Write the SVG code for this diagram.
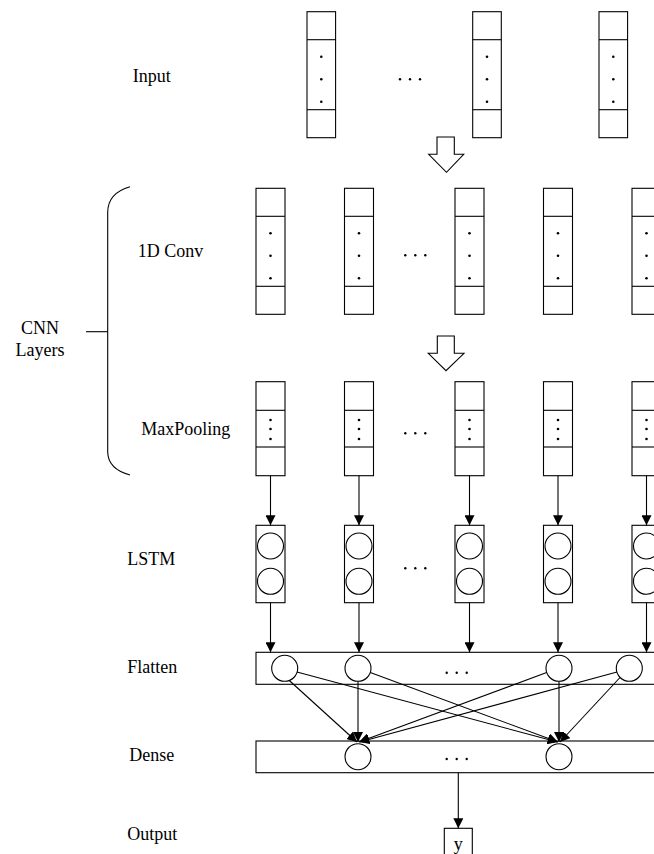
<svg xmlns="http://www.w3.org/2000/svg" width="654" height="854" viewBox="0 0 654 854">
  <style>
    .ln { fill: none; stroke: #000; stroke-width: 1.1; }
    .box { fill: #fff; stroke: #000; stroke-width: 1.1; }
    .dot { fill: #000; }
    .lbl { font-family: "Liberation Serif", "Times New Roman", serif; font-size: 18px; fill: #000; }
  </style>
  <defs>
    <marker id="tip" markerWidth="10" markerHeight="10" refX="10" refY="5" orient="auto" markerUnits="userSpaceOnUse" viewBox="0 0 10 10">
      <path d="M0,0 L10,5 L0,10 z" fill="#000"/>
    </marker>
    <!-- stacked feature column with vertical dots (spread) -->
    <g id="colTall">
      <rect class="box" x="0" y="0" width="29" height="126"/>
      <line class="ln" x1="0" y1="28" x2="29" y2="28"/>
      <line class="ln" x1="0" y1="98" x2="29" y2="98"/>
      <circle class="dot" cx="14.5" cy="45" r="1.3"/>
      <circle class="dot" cx="14.5" cy="67.5" r="1.3"/>
      <circle class="dot" cx="14.5" cy="90" r="1.3"/>
    </g>
    <!-- pooled column with compact dots -->
    <g id="colPool">
      <rect class="box" x="0" y="0" width="29" height="94"/>
      <line class="ln" x1="0" y1="28.6" x2="29" y2="28.6"/>
      <line class="ln" x1="0" y1="65.3" x2="29" y2="65.3"/>
      <circle class="dot" cx="14.5" cy="38.3" r="1.3"/>
      <circle class="dot" cx="14.5" cy="47.3" r="1.3"/>
      <circle class="dot" cx="14.5" cy="57.3" r="1.3"/>
    </g>
    <!-- LSTM cell with two units -->
    <g id="cell">
      <rect class="box" x="0" y="0" width="29" height="77.4"/>
      <circle class="ln" cx="14.5" cy="20.7" r="13"/>
      <circle class="ln" cx="14.5" cy="56" r="13"/>
    </g>
    <g id="hdots">
      <circle class="dot" cx="0" cy="0" r="1.2"/>
      <circle class="dot" cx="10" cy="0" r="1.2"/>
      <circle class="dot" cx="20" cy="0" r="1.2"/>
    </g>
  </defs>

  <!-- row labels -->
  <g id="labels">
    <text class="lbl" x="132.7" y="81.7">Input</text>
    <text class="lbl" x="137.7" y="256.7">1D Conv</text>
    <text class="lbl" x="141.3" y="435">MaxPooling</text>
    <text class="lbl" x="127.3" y="565">LSTM</text>
    <text class="lbl" x="127.3" y="673.3">Flatten</text>
    <text class="lbl" x="129.3" y="760.7">Dense</text>
    <text class="lbl" x="127.3" y="840">Output</text>
    <text class="lbl" x="40" y="334" text-anchor="middle">CNN</text>
    <text class="lbl" x="40" y="356" text-anchor="middle">Layers</text>
  </g>

  <!-- brace grouping the CNN layers -->
  <g id="brace">
    <path class="ln" d="M130,186.7 Q108,193 107.7,212 L107.7,452 Q108,469 130,475"/>
    <line class="ln" x1="86" y1="331.7" x2="107.7" y2="331.7"/>
  </g>

  <!-- input layer -->
  <g id="input">
    <g transform="translate(307,11.7) scale(0.986,1)"><use href="#colTall"/></g>
    <g transform="translate(472.7,11.7) scale(0.986,1)"><use href="#colTall"/></g>
    <g transform="translate(599,11.7) scale(0.986,1)"><use href="#colTall"/></g>
    <use href="#hdots" x="400" y="79.3"/>
  </g>

  <!-- hollow transition arrows -->
  <g id="arrow-input-conv">
    <path class="box" d="M437,137 L454.3,137 L454.3,154.3 L463.7,154.3 L446.5,172.3 L428.7,154.3 L437,154.3 Z"/>
  </g>
  <g id="arrow-conv-pool">
    <path class="box" d="M437.3,336 L454.3,336 L454.3,353.3 L464,353.3 L446,370.7 L428.3,353.3 L437.3,353.3 Z"/>
  </g>

  <!-- 1D convolution layer -->
  <g id="conv">
    <use href="#colTall" x="256" y="188.3"/>
    <use href="#colTall" x="344.5" y="188.3"/>
    <use href="#colTall" x="455" y="188.3"/>
    <use href="#colTall" x="543.5" y="188.3"/>
    <use href="#colTall" x="632" y="188.3"/>
    <use href="#hdots" x="405.3" y="255.3"/>
  </g>

  <!-- max pooling layer -->
  <g id="pool">
    <use href="#colPool" x="256" y="381.7"/>
    <use href="#colPool" x="344.5" y="381.7"/>
    <use href="#colPool" x="455" y="381.7"/>
    <use href="#colPool" x="543.5" y="381.7"/>
    <use href="#colPool" x="632" y="381.7"/>
    <use href="#hdots" x="405.3" y="433.3"/>
  </g>

  <!-- LSTM layer -->
  <g id="lstm">
    <use href="#cell" x="256" y="525.3"/>
    <use href="#cell" x="344.5" y="525.3"/>
    <use href="#cell" x="455" y="525.3"/>
    <use href="#cell" x="543.5" y="525.3"/>
    <use href="#cell" x="632" y="525.3"/>
    <use href="#hdots" x="405.3" y="568.3"/>
  </g>

  <!-- flatten layer -->
  <g id="flatten">
    <rect class="box" x="256" y="652.3" width="430" height="32"/>
    <circle class="ln" cx="284.7" cy="668.3" r="13"/>
    <circle class="ln" cx="358" cy="668.3" r="13"/>
    <circle class="ln" cx="559" cy="668.3" r="13"/>
    <circle class="ln" cx="629.3" cy="668.3" r="13"/>
    <use href="#hdots" x="446.7" y="672.7"/>
  </g>

  <!-- dense layer -->
  <g id="dense">
    <rect class="box" x="256" y="741" width="430" height="31.7"/>
    <circle class="ln" cx="358" cy="756.7" r="13"/>
    <circle class="ln" cx="559" cy="756.7" r="13"/>
    <use href="#hdots" x="446.7" y="759"/>
  </g>

  <!-- output node -->
  <g id="output">
    <rect class="box" x="444.3" y="828.3" width="28" height="40"/>
    <text class="lbl" x="458.3" y="850" text-anchor="middle">y</text>
  </g>

  <!-- connectors -->
  <g id="connectors" class="ln" marker-end="url(#tip)">
    <!-- pooling to LSTM -->
    <line x1="270.5" y1="475.7" x2="270.5" y2="525.3"/>
    <line x1="359" y1="475.7" x2="359" y2="525.3"/>
    <line x1="469.5" y1="475.7" x2="469.5" y2="525.3"/>
    <line x1="558" y1="475.7" x2="558" y2="525.3"/>
    <line x1="646.5" y1="475.7" x2="646.5" y2="525.3"/>
    <!-- LSTM to flatten -->
    <line x1="270.5" y1="602.7" x2="270.5" y2="652.3"/>
    <line x1="359" y1="602.7" x2="359" y2="652.3"/>
    <line x1="469.5" y1="602.7" x2="469.5" y2="652.3"/>
    <line x1="558" y1="602.7" x2="558" y2="652.3"/>
    <line x1="646.5" y1="602.7" x2="646.5" y2="652.3"/>
    <!-- flatten to dense (fully connected) -->
    <line x1="289.3" y1="680.5" x2="357" y2="742"/>
    <line x1="297" y1="672" x2="557.5" y2="742"/>
    <line x1="358" y1="681.3" x2="358" y2="742"/>
    <line x1="370.3" y1="672.5" x2="558" y2="742"/>
    <line x1="546.7" y1="672.5" x2="359" y2="742"/>
    <line x1="559" y1="681.3" x2="559" y2="742"/>
    <line x1="617" y1="672" x2="359.5" y2="742"/>
    <line x1="620" y1="677.5" x2="560" y2="742"/>
    <!-- dense to output -->
    <line x1="458.3" y1="772.7" x2="458.3" y2="828.3"/>
  </g>
</svg>
